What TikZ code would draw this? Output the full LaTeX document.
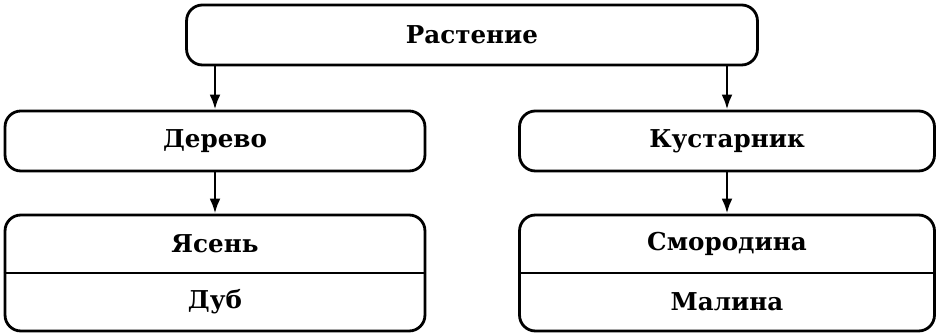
\documentclass[tikz,border=0pt]{standalone}
\usepackage{fontspec}
\setmainfont{DejaVu Serif}
\usetikzlibrary{arrows.meta}

\tikzset{
  plantbox/.style={draw, rounded corners=9pt, minimum height=1.2cm, font=\bfseries\fontsize{14}{16}\selectfont},
  plantname/.style={font=\bfseries\fontsize{14}{16}\selectfont}
}

\begin{document}
\begin{tikzpicture}[x=0.02cm,y=-0.02cm,>={Latex[length=3mm,width=2.2mm]},line width=1.6pt]
\useasboundingbox (0,0) rectangle (936,333);
\node[plantbox, minimum width=11.42cm] (R) at (472,35) {Растение};
\node[plantbox, minimum width=8.4cm] (D) at (215,141) {Дерево};
\node[plantbox, minimum width=8.3cm] (K) at (727,141) {Кустарник};
\node[plantbox, minimum width=8.4cm, minimum height=2.32cm] (DL) at (215,273) {};
\node[plantbox, minimum width=8.3cm, minimum height=2.32cm] (KL) at (727,273) {};
\node[plantname] (Ya) at (215,244) {Ясень};
\node[plantname] (Du) at (215,302) {Дуб};
\node[plantname] (Sm) at (727,244) {Смородина};
\node[plantname] (Ma) at (727,302) {Малина};
\draw (DL.west) -- (DL.east);
\draw (KL.west) -- (KL.east);
\draw[->] (R.south -| D.north) -- (D.north);
\draw[->] (R.south -| K.north) -- (K.north);
\draw[->] (D) -- (DL);
\draw[->] (K) -- (KL);
\end{tikzpicture}
\end{document}
